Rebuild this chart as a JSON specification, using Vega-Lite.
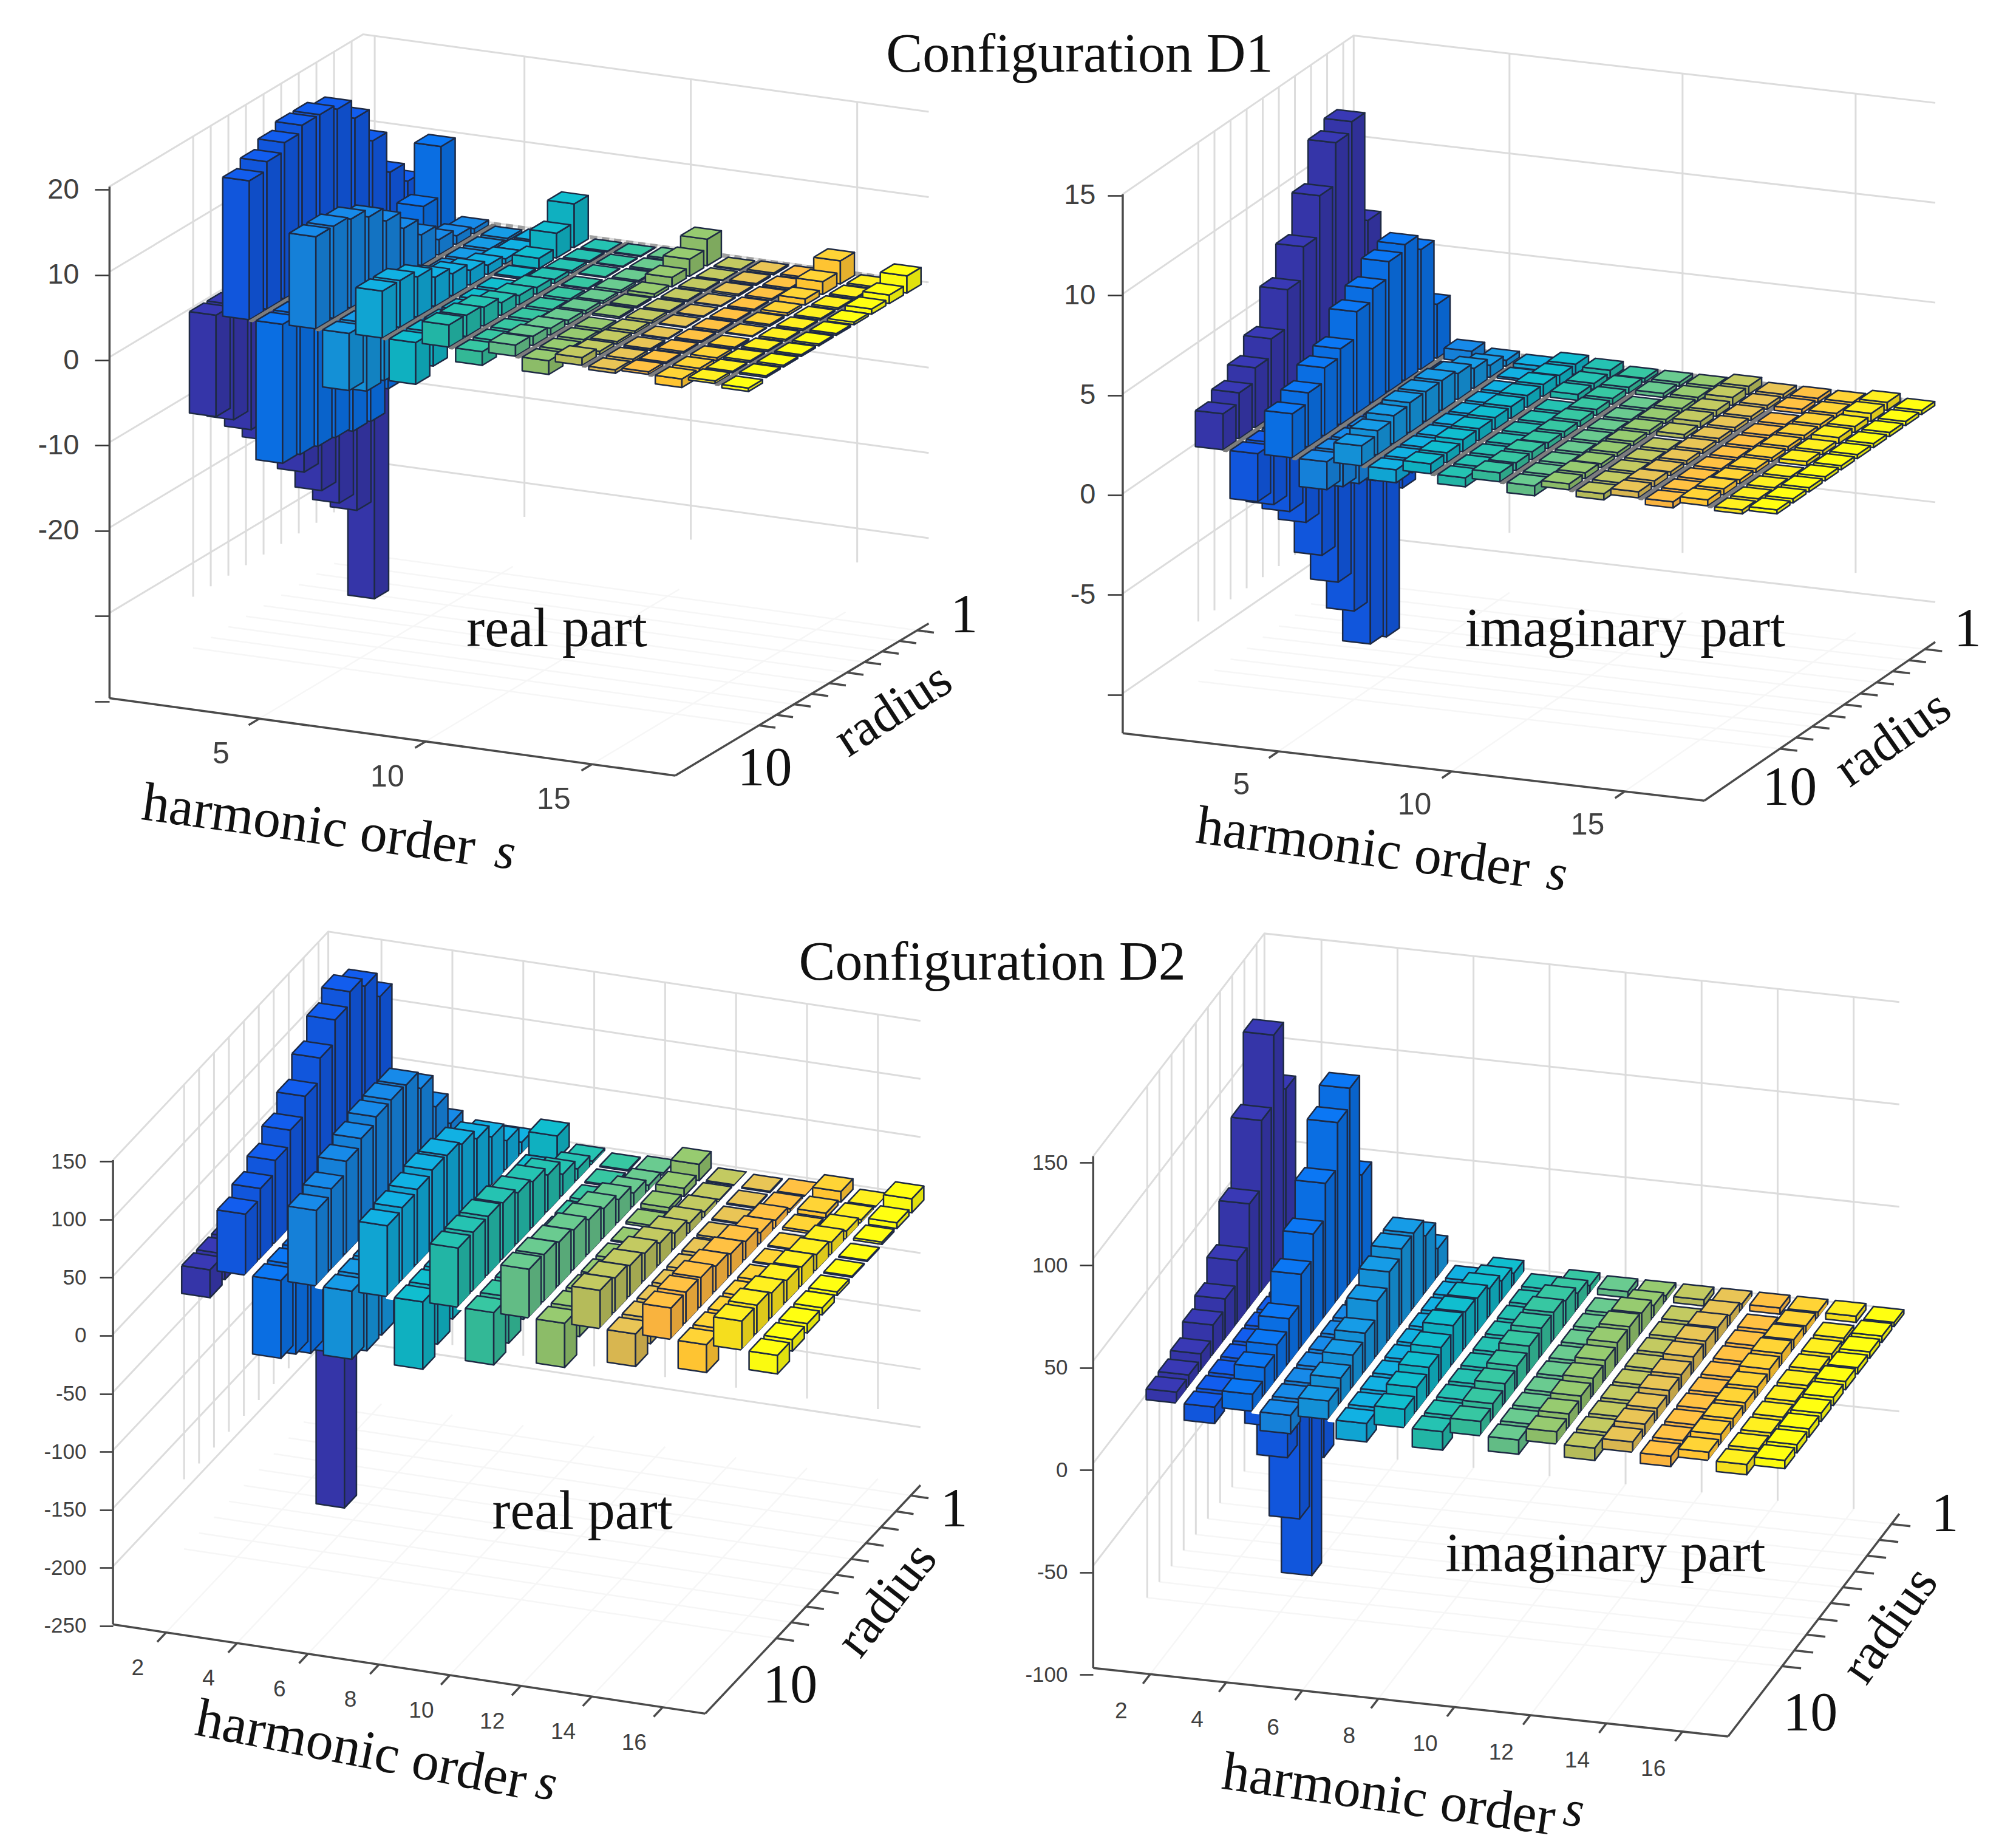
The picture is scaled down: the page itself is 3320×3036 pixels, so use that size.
{"$schema":"https://vega.github.io/schema/vega-lite/v6.json","padding":0,"background":"white","spacing":0,"config":{"view":{"stroke":null}},
"params":[{"name":"G","value":{
"A":{"x0":580.7,"xs":54.8,"xr":29,"left":180,"y0":327.5,"ks":7.5,"kr":17.4,"yc":593,"sc":14.04,"s0":0.5,"s1":17.5,"r0":0.35,"r1":14.75,"vmin":-40,"vtop":20,"vf":-34,"par":1,"gap":"#7d7d7d","gw":0.05,"ws":0.35,"lx":-63,"ly":59},
"B":{"x0":2210,"xs":57,"xr":26.5,"left":1848,"y0":542,"ks":6.6,"kr":18.2,"yc":815,"sc":32.87,"s0":0.5,"s1":17.3,"r0":0.35,"r1":14.7,"vmin":-12,"vtop":15,"vf":-9,"par":0,"gap":"#7d7d7d","gw":0.05,"ws":0,"lx":-61,"ly":56},
"C":{"x0":520,"xs":58.4,"xr":24.6,"left":180,"y0":1805,"ks":8.8,"kr":26.1,"yc":2197,"sc":1.911,"s0":0.5,"s1":17.2,"r0":0.35,"r1":14.76,"vmin":-250,"vtop":150,"vf":-190,"par":1,"gap":"#ffffff","gw":0.09,"ws":0,"lx":-47,"ly":59},
"D":{"x0":2058,"xs":62.6,"xr":20,"left":1800,"y0":2028,"ks":6.75,"kr":26,"yc":2418,"sc":3.371,"s0":0.5,"s1":17.2,"r0":0.35,"r1":14.45,"vmin":-100,"vtop":150,"vf":-100,"par":0,"gap":"#ffffff","gw":0.09,"ws":0,"lx":-48,"ly":62}}},
{"name":"PAL","value":["#3535a8","#1156dc","#0a6ee2","#1580d8","#1490d6","#10a4d2","#0fb0c0","#22b5a5","#33b896","#62bc85","#8cbc68","#b5bb5a","#d8b650","#f9b33e","#fec432","#f5de1e","#fafa10"]}],
"data":{"values":[
{"p":"A","k":"z","t":[20,10,0,-10,-20,-30]},{"p":"A","k":"s","t":[0.5,5,10,15]},{"p":"A","k":"r","t":[1,2,3,4,5,6,7,8,9,10]},{"p":"A","k":"sf","t":[5,10,15]},{"p":"A","k":"rf","t":[1,2,3,4,5,6,7,8,9,10]},{"p":"A","k":"za"},{"p":"A","k":"sa"},{"p":"A","k":"ra"},{"p":"A","k":"st","t":[5,10,15]},{"p":"A","k":"rt","t":[1,2,3,4,5,6,7,8,9,10]},{"p":"A","k":"sl","t":[5,10,15]},{"p":"A","k":"bk"},
{"p":"B","k":"z","t":[15,10,5,0,-5,-10]},{"p":"B","k":"s","t":[0.5,5,10,15]},{"p":"B","k":"r","t":[1,2,3,4,5,6,7,8,9,10]},{"p":"B","k":"sf","t":[5,10,15]},{"p":"B","k":"rf","t":[1,2,3,4,5,6,7,8,9,10]},{"p":"B","k":"za"},{"p":"B","k":"sa"},{"p":"B","k":"ra"},{"p":"B","k":"st","t":[5,10,15]},{"p":"B","k":"rt","t":[1,2,3,4,5,6,7,8,9,10]},{"p":"B","k":"sl","t":[5,10,15]},{"p":"B","k":"bk"},
{"p":"C","k":"z","t":[150,100,50,0,-50,-100,-150,-200]},{"p":"C","k":"s","t":[0.5,2,4,6,8,10,12,14,16]},{"p":"C","k":"r","t":[1,2,3,4,5,6,7,8,9,10]},{"p":"C","k":"sf","t":[2,4,6,8,10,12,14,16]},{"p":"C","k":"rf","t":[1,2,3,4,5,6,7,8,9,10]},{"p":"C","k":"za"},{"p":"C","k":"sa"},{"p":"C","k":"ra"},{"p":"C","k":"st","t":[2,4,6,8,10,12,14,16]},{"p":"C","k":"rt","t":[1,2,3,4,5,6,7,8,9,10]},{"p":"C","k":"sl","t":[2,4,6,8,10,12,14,16]},
{"p":"D","k":"z","t":[150,100,50,0,-50]},{"p":"D","k":"s","t":[0.5,2,4,6,8,10,12,14,16]},{"p":"D","k":"r","t":[1,2,3,4,5,6,7,8,9,10]},{"p":"D","k":"sf","t":[2,4,6,8,10,12,14,16]},{"p":"D","k":"rf","t":[1,2,3,4,5,6,7,8,9,10]},{"p":"D","k":"za"},{"p":"D","k":"sa"},{"p":"D","k":"ra"},{"p":"D","k":"st","t":[2,4,6,8,10,12,14,16]},{"p":"D","k":"rt","t":[1,2,3,4,5,6,7,8,9,10]},{"p":"D","k":"sl","t":[2,4,6,8,10,12,14,16]},
{"p":"A","k":"txt","cls":"big","label":"Configuration D1","x":29.16,"y":35.75},{"p":"A","k":"txt","cls":"big","label":"real part","x":13.45,"y":-31.6},{"p":"A","k":"txt","cls":"harm","label":"harmonic order","x":5.99,"y":-54.6},{"p":"A","k":"txt","cls":"sv","label":"s","x":11.9,"y":-57.8},{"p":"A","k":"txt","cls":"rad","label":"radius","x":23.56,"y":-41},{"p":"A","k":"txt","cls":"big","label":"1","x":25.69,"y":-30},{"p":"A","k":"txt","cls":"big","label":"10","x":19.7,"y":-47.9},
{"p":"B","k":"txt","cls":"big","label":"imaginary part","x":14.53,"y":-6.75},{"p":"B","k":"txt","cls":"harm","label":"harmonic order","x":6.95,"y":-17.7},{"p":"B","k":"txt","cls":"sv","label":"s","x":12.56,"y":-19},{"p":"B","k":"txt","cls":"rad","label":"radius","x":22.26,"y":-12.2},{"p":"B","k":"txt","cls":"big","label":"1","x":24.42,"y":-6.75},{"p":"B","k":"txt","cls":"big","label":"10","x":19.28,"y":-14.7},
{"p":"C","k":"txt","cls":"big","label":"Configuration D2","x":24.9,"y":320.8},{"p":"C","k":"txt","cls":"big","label":"real part","x":13.34,"y":-152.3},{"p":"C","k":"txt","cls":"harm","label":"harmonic order","x":7.1,"y":-357.4},{"p":"C","k":"txt","cls":"sv","label":"s","x":12.33,"y":-386.2},{"p":"C","k":"txt","cls":"rad","label":"radius","x":21.93,"y":-227.6},{"p":"C","k":"txt","cls":"big","label":"1","x":23.82,"y":-150.2},{"p":"C","k":"txt","cls":"big","label":"10","x":19.2,"y":-301.9},
{"p":"D","k":"txt","cls":"big","label":"imaginary part","x":13.48,"y":-41.5},{"p":"D","k":"txt","cls":"harm","label":"harmonic order","x":7.78,"y":-159},{"p":"D","k":"txt","cls":"sv","label":"s","x":12.65,"y":-166.4},{"p":"D","k":"txt","cls":"rad","label":"radius","x":20.96,"y":-75.9},{"p":"D","k":"txt","cls":"big","label":"1","x":22.41,"y":-22},{"p":"D","k":"txt","cls":"big","label":"10","x":18.87,"y":-119.3},
{"p":"A","s":1,"r":1,"v":-44.4},{"p":"A","s":1,"r":2,"v":-32.8},{"p":"A","s":1,"r":3,"v":-30.7},{"p":"A","s":1,"r":4,"v":-28},{"p":"A","s":1,"r":5,"v":-24.6},{"p":"A","s":1,"r":6,"v":-21.5},{"p":"A","s":1,"r":7,"v":-18.4},{"p":"A","s":1,"r":8,"v":-15.9},{"p":"A","s":1,"r":9,"v":-13.5},{"p":"A","s":1,"r":10,"v":-11.9},
{"p":"A","s":2,"r":1,"v":5.1},{"p":"A","s":2,"r":2,"v":7.4},{"p":"A","s":2,"r":3,"v":12.3},{"p":"A","s":2,"r":4,"v":16.2},{"p":"A","s":2,"r":5,"v":18.5},{"p":"A","s":2,"r":6,"v":19.1},{"p":"A","s":2,"r":7,"v":19.1},{"p":"A","s":2,"r":8,"v":18.3},{"p":"A","s":2,"r":9,"v":17.3},{"p":"A","s":2,"r":10,"v":16.3},
{"p":"A","s":3,"r":1,"v":9.7},{"p":"A","s":3,"r":2,"v":3.9},{"p":"A","s":3,"r":3,"v":-8},{"p":"A","s":3,"r":4,"v":-15},{"p":"A","s":3,"r":5,"v":-17.6},{"p":"A","s":3,"r":6,"v":-17.5},{"p":"A","s":3,"r":7,"v":-17},{"p":"A","s":3,"r":8,"v":-16.8},{"p":"A","s":3,"r":9,"v":-16.5},{"p":"A","s":3,"r":10,"v":-16.3},
{"p":"A","s":4,"r":1,"v":0.6},{"p":"A","s":4,"r":2,"v":1},{"p":"A","s":4,"r":3,"v":1.8},{"p":"A","s":4,"r":4,"v":3.6},{"p":"A","s":4,"r":5,"v":5.6},{"p":"A","s":4,"r":6,"v":7.7},{"p":"A","s":4,"r":7,"v":9.4},{"p":"A","s":4,"r":8,"v":10.4},{"p":"A","s":4,"r":9,"v":10.8},{"p":"A","s":4,"r":10,"v":10.8},
{"p":"A","s":5,"r":1,"v":-0.3},{"p":"A","s":5,"r":2,"v":-0.6},{"p":"A","s":5,"r":3,"v":-1},{"p":"A","s":5,"r":4,"v":-2.5},{"p":"A","s":5,"r":5,"v":-4},{"p":"A","s":5,"r":6,"v":-6},{"p":"A","s":5,"r":7,"v":-7.5},{"p":"A","s":5,"r":8,"v":-8},{"p":"A","s":5,"r":9,"v":-8},{"p":"A","s":5,"r":10,"v":-6.7},
{"p":"A","s":6,"r":1,"v":0.2},{"p":"A","s":6,"r":2,"v":0.3},{"p":"A","s":6,"r":3,"v":0.6},{"p":"A","s":6,"r":4,"v":1.1},{"p":"A","s":6,"r":5,"v":1.75},{"p":"A","s":6,"r":6,"v":2.6},{"p":"A","s":6,"r":7,"v":3.4},{"p":"A","s":6,"r":8,"v":4.7},{"p":"A","s":6,"r":9,"v":5.5},{"p":"A","s":6,"r":10,"v":5.5},
{"p":"A","s":7,"r":1,"v":5.1},{"p":"A","s":7,"r":2,"v":2.9},{"p":"A","s":7,"r":3,"v":1.2},{"p":"A","s":7,"r":4,"v":0.2},{"p":"A","s":7,"r":5,"v":-0.7},{"p":"A","s":7,"r":6,"v":-1.2},{"p":"A","s":7,"r":7,"v":-2},{"p":"A","s":7,"r":8,"v":-3},{"p":"A","s":7,"r":9,"v":-4},{"p":"A","s":7,"r":10,"v":-4.9},
{"p":"A","s":8,"r":1,"v":0.1},{"p":"A","s":8,"r":2,"v":0.2},{"p":"A","s":8,"r":3,"v":0.3},{"p":"A","s":8,"r":4,"v":0.5},{"p":"A","s":8,"r":5,"v":0.8},{"p":"A","s":8,"r":6,"v":1.1},{"p":"A","s":8,"r":7,"v":1.5},{"p":"A","s":8,"r":8,"v":2.2},{"p":"A","s":8,"r":9,"v":2.5},{"p":"A","s":8,"r":10,"v":2.6},
{"p":"A","s":9,"r":1,"v":0.1},{"p":"A","s":9,"r":2,"v":0.1},{"p":"A","s":9,"r":3,"v":0.1},{"p":"A","s":9,"r":4,"v":-0.1},{"p":"A","s":9,"r":5,"v":-0.3},{"p":"A","s":9,"r":6,"v":-0.5},{"p":"A","s":9,"r":7,"v":-0.7},{"p":"A","s":9,"r":8,"v":-1},{"p":"A","s":9,"r":9,"v":-1.2},{"p":"A","s":9,"r":10,"v":-1.6},
{"p":"A","s":10,"r":1,"v":0.2},{"p":"A","s":10,"r":2,"v":0.2},{"p":"A","s":10,"r":3,"v":0.2},{"p":"A","s":10,"r":4,"v":0.3},{"p":"A","s":10,"r":5,"v":0.3},{"p":"A","s":10,"r":6,"v":0.4},{"p":"A","s":10,"r":7,"v":0.5},{"p":"A","s":10,"r":8,"v":0.8},{"p":"A","s":10,"r":9,"v":1.1},{"p":"A","s":10,"r":10,"v":1.3},
{"p":"A","s":11,"r":1,"v":3.1},{"p":"A","s":11,"r":2,"v":2},{"p":"A","s":11,"r":3,"v":1.1},{"p":"A","s":11,"r":4,"v":0.4},{"p":"A","s":11,"r":5,"v":0.2},{"p":"A","s":11,"r":6,"v":0.2},{"p":"A","s":11,"r":7,"v":-0.3},{"p":"A","s":11,"r":8,"v":-0.5},{"p":"A","s":11,"r":9,"v":-0.8},{"p":"A","s":11,"r":10,"v":-1.6},
{"p":"A","s":12,"r":1,"v":0.1},{"p":"A","s":12,"r":2,"v":0.1},{"p":"A","s":12,"r":3,"v":0.2},{"p":"A","s":12,"r":4,"v":0.2},{"p":"A","s":12,"r":5,"v":0.2},{"p":"A","s":12,"r":6,"v":0.3},{"p":"A","s":12,"r":7,"v":0.3},{"p":"A","s":12,"r":8,"v":0.3},{"p":"A","s":12,"r":9,"v":0.4},{"p":"A","s":12,"r":10,"v":0.9},
{"p":"A","s":13,"r":1,"v":0.2},{"p":"A","s":13,"r":2,"v":0.2},{"p":"A","s":13,"r":3,"v":0.2},{"p":"A","s":13,"r":4,"v":0.1},{"p":"A","s":13,"r":5,"v":0.1},{"p":"A","s":13,"r":6,"v":0.1},{"p":"A","s":13,"r":7,"v":-0.1},{"p":"A","s":13,"r":8,"v":-0.2},{"p":"A","s":13,"r":9,"v":-0.3},{"p":"A","s":13,"r":10,"v":-0.4},
{"p":"A","s":14,"r":1,"v":0.2},{"p":"A","s":14,"r":2,"v":0.2},{"p":"A","s":14,"r":3,"v":0.2},{"p":"A","s":14,"r":4,"v":0.2},{"p":"A","s":14,"r":5,"v":0.2},{"p":"A","s":14,"r":6,"v":0.2},{"p":"A","s":14,"r":7,"v":0.2},{"p":"A","s":14,"r":8,"v":0.2},{"p":"A","s":14,"r":9,"v":0.2},{"p":"A","s":14,"r":10,"v":0.3},
{"p":"A","s":15,"r":1,"v":2.7},{"p":"A","s":15,"r":2,"v":1.5},{"p":"A","s":15,"r":3,"v":0.7},{"p":"A","s":15,"r":4,"v":0.3},{"p":"A","s":15,"r":5,"v":0.2},{"p":"A","s":15,"r":6,"v":0.1},{"p":"A","s":15,"r":7,"v":-0.2},{"p":"A","s":15,"r":8,"v":-0.3},{"p":"A","s":15,"r":9,"v":-0.5},{"p":"A","s":15,"r":10,"v":-1},
{"p":"A","s":16,"r":1,"v":0.2},{"p":"A","s":16,"r":2,"v":0.2},{"p":"A","s":16,"r":3,"v":0.2},{"p":"A","s":16,"r":4,"v":0.2},{"p":"A","s":16,"r":5,"v":0.2},{"p":"A","s":16,"r":6,"v":0.2},{"p":"A","s":16,"r":7,"v":0.2},{"p":"A","s":16,"r":8,"v":0.2},{"p":"A","s":16,"r":9,"v":0.2},{"p":"A","s":16,"r":10,"v":0.3},
{"p":"A","s":17,"r":1,"v":2},{"p":"A","s":17,"r":2,"v":1},{"p":"A","s":17,"r":3,"v":0.6},{"p":"A","s":17,"r":4,"v":0.3},{"p":"A","s":17,"r":5,"v":0.2},{"p":"A","s":17,"r":6,"v":0.2},{"p":"A","s":17,"r":7,"v":0.2},{"p":"A","s":17,"r":8,"v":0.2},{"p":"A","s":17,"r":9,"v":0.2},{"p":"A","s":17,"r":10,"v":-0.4},
{"p":"B","s":1,"r":1,"v":6.5},{"p":"B","s":1,"r":2,"v":12},{"p":"B","s":1,"r":3,"v":11.5},{"p":"B","s":1,"r":4,"v":9.4},{"p":"B","s":1,"r":5,"v":7.4},{"p":"B","s":1,"r":6,"v":5.8},{"p":"B","s":1,"r":7,"v":3.9},{"p":"B","s":1,"r":8,"v":3},{"p":"B","s":1,"r":9,"v":2.3},{"p":"B","s":1,"r":10,"v":1.8},
{"p":"B","s":2,"r":1,"v":-6.7},{"p":"B","s":2,"r":2,"v":-13.6},{"p":"B","s":2,"r":3,"v":-13.4},{"p":"B","s":2,"r":4,"v":-11.2},{"p":"B","s":2,"r":5,"v":-9.2},{"p":"B","s":2,"r":6,"v":-7.3},{"p":"B","s":2,"r":7,"v":-5.1},{"p":"B","s":2,"r":8,"v":-4},{"p":"B","s":2,"r":9,"v":-3.1},{"p":"B","s":2,"r":10,"v":-2.4},
{"p":"B","s":3,"r":1,"v":2.7},{"p":"B","s":3,"r":2,"v":6},{"p":"B","s":3,"r":3,"v":6.8},{"p":"B","s":3,"r":4,"v":6.5},{"p":"B","s":3,"r":5,"v":5.7},{"p":"B","s":3,"r":6,"v":5.1},{"p":"B","s":3,"r":7,"v":3.8},{"p":"B","s":3,"r":8,"v":3.4},{"p":"B","s":3,"r":9,"v":2.7},{"p":"B","s":3,"r":10,"v":2.2},
{"p":"B","s":4,"r":1,"v":0.55},{"p":"B","s":4,"r":2,"v":-1},{"p":"B","s":4,"r":3,"v":-2},{"p":"B","s":4,"r":4,"v":-2.8},{"p":"B","s":4,"r":5,"v":-3},{"p":"B","s":4,"r":6,"v":-3},{"p":"B","s":4,"r":7,"v":-2.6},{"p":"B","s":4,"r":8,"v":-2.2},{"p":"B","s":4,"r":9,"v":-1.8},{"p":"B","s":4,"r":10,"v":-1.4},
{"p":"B","s":5,"r":1,"v":0.3},{"p":"B","s":5,"r":2,"v":0.6},{"p":"B","s":5,"r":3,"v":1},{"p":"B","s":5,"r":4,"v":1.3},{"p":"B","s":5,"r":5,"v":1.5},{"p":"B","s":5,"r":6,"v":1.5},{"p":"B","s":5,"r":7,"v":1.5},{"p":"B","s":5,"r":8,"v":1.4},{"p":"B","s":5,"r":9,"v":1.2},{"p":"B","s":5,"r":10,"v":1},
{"p":"B","s":6,"r":1,"v":0.2},{"p":"B","s":6,"r":2,"v":0.1},{"p":"B","s":6,"r":3,"v":-0.2},{"p":"B","s":6,"r":4,"v":-0.4},{"p":"B","s":6,"r":5,"v":-0.6},{"p":"B","s":6,"r":6,"v":-0.7},{"p":"B","s":6,"r":7,"v":-0.8},{"p":"B","s":6,"r":8,"v":-0.8},{"p":"B","s":6,"r":9,"v":-0.7},{"p":"B","s":6,"r":10,"v":-0.65},
{"p":"B","s":7,"r":1,"v":0.5},{"p":"B","s":7,"r":2,"v":0.5},{"p":"B","s":7,"r":3,"v":0.6},{"p":"B","s":7,"r":4,"v":0.6},{"p":"B","s":7,"r":5,"v":0.6},{"p":"B","s":7,"r":6,"v":0.6},{"p":"B","s":7,"r":7,"v":0.6},{"p":"B","s":7,"r":8,"v":0.6},{"p":"B","s":7,"r":9,"v":0.5},{"p":"B","s":7,"r":10,"v":0.5},
{"p":"B","s":8,"r":1,"v":0.4},{"p":"B","s":8,"r":2,"v":0.3},{"p":"B","s":8,"r":3,"v":0.3},{"p":"B","s":8,"r":4,"v":-0.2},{"p":"B","s":8,"r":5,"v":-0.3},{"p":"B","s":8,"r":6,"v":-0.4},{"p":"B","s":8,"r":7,"v":-0.4},{"p":"B","s":8,"r":8,"v":-0.4},{"p":"B","s":8,"r":9,"v":-0.4},{"p":"B","s":8,"r":10,"v":-0.45},
{"p":"B","s":9,"r":1,"v":0.2},{"p":"B","s":9,"r":2,"v":0.3},{"p":"B","s":9,"r":3,"v":0.3},{"p":"B","s":9,"r":4,"v":0.3},{"p":"B","s":9,"r":5,"v":0.3},{"p":"B","s":9,"r":6,"v":0.3},{"p":"B","s":9,"r":7,"v":0.3},{"p":"B","s":9,"r":8,"v":0.4},{"p":"B","s":9,"r":9,"v":0.4},{"p":"B","s":9,"r":10,"v":0.45},
{"p":"B","s":10,"r":1,"v":0.2},{"p":"B","s":10,"r":2,"v":0.2},{"p":"B","s":10,"r":3,"v":-0.2},{"p":"B","s":10,"r":4,"v":-0.2},{"p":"B","s":10,"r":5,"v":-0.3},{"p":"B","s":10,"r":6,"v":-0.3},{"p":"B","s":10,"r":7,"v":-0.3},{"p":"B","s":10,"r":8,"v":-0.4},{"p":"B","s":10,"r":9,"v":-0.4},{"p":"B","s":10,"r":10,"v":-0.5},
{"p":"B","s":11,"r":1,"v":0.2},{"p":"B","s":11,"r":2,"v":0.2},{"p":"B","s":11,"r":3,"v":0.2},{"p":"B","s":11,"r":4,"v":0.2},{"p":"B","s":11,"r":5,"v":0.2},{"p":"B","s":11,"r":6,"v":0.2},{"p":"B","s":11,"r":7,"v":0.2},{"p":"B","s":11,"r":8,"v":0.2},{"p":"B","s":11,"r":9,"v":0.3},{"p":"B","s":11,"r":10,"v":0.3},
{"p":"B","s":12,"r":1,"v":0.4},{"p":"B","s":12,"r":2,"v":0.4},{"p":"B","s":12,"r":3,"v":0.3},{"p":"B","s":12,"r":4,"v":0.3},{"p":"B","s":12,"r":5,"v":0.2},{"p":"B","s":12,"r":6,"v":-0.2},{"p":"B","s":12,"r":7,"v":-0.2},{"p":"B","s":12,"r":8,"v":-0.2},{"p":"B","s":12,"r":9,"v":-0.2},{"p":"B","s":12,"r":10,"v":-0.3},
{"p":"B","s":13,"r":1,"v":0.2},{"p":"B","s":13,"r":2,"v":0.2},{"p":"B","s":13,"r":3,"v":0.2},{"p":"B","s":13,"r":4,"v":0.2},{"p":"B","s":13,"r":5,"v":0.2},{"p":"B","s":13,"r":6,"v":0.2},{"p":"B","s":13,"r":7,"v":0.2},{"p":"B","s":13,"r":8,"v":0.2},{"p":"B","s":13,"r":9,"v":0.3},{"p":"B","s":13,"r":10,"v":0.3},
{"p":"B","s":14,"r":1,"v":0.2},{"p":"B","s":14,"r":2,"v":0.2},{"p":"B","s":14,"r":3,"v":-0.2},{"p":"B","s":14,"r":4,"v":-0.2},{"p":"B","s":14,"r":5,"v":-0.2},{"p":"B","s":14,"r":6,"v":-0.2},{"p":"B","s":14,"r":7,"v":-0.2},{"p":"B","s":14,"r":8,"v":-0.2},{"p":"B","s":14,"r":9,"v":-0.3},{"p":"B","s":14,"r":10,"v":-0.3},
{"p":"B","s":15,"r":1,"v":0.2},{"p":"B","s":15,"r":2,"v":0.2},{"p":"B","s":15,"r":3,"v":0.2},{"p":"B","s":15,"r":4,"v":0.2},{"p":"B","s":15,"r":5,"v":0.2},{"p":"B","s":15,"r":6,"v":0.2},{"p":"B","s":15,"r":7,"v":0.2},{"p":"B","s":15,"r":8,"v":0.2},{"p":"B","s":15,"r":9,"v":0.3},{"p":"B","s":15,"r":10,"v":0.3},
{"p":"B","s":16,"r":1,"v":0.4},{"p":"B","s":16,"r":2,"v":0.4},{"p":"B","s":16,"r":3,"v":0.3},{"p":"B","s":16,"r":4,"v":0.3},{"p":"B","s":16,"r":5,"v":0.2},{"p":"B","s":16,"r":6,"v":0.2},{"p":"B","s":16,"r":7,"v":-0.2},{"p":"B","s":16,"r":8,"v":-0.2},{"p":"B","s":16,"r":9,"v":-0.2},{"p":"B","s":16,"r":10,"v":-0.2},
{"p":"B","s":17,"r":1,"v":0.2},{"p":"B","s":17,"r":2,"v":0.2},{"p":"B","s":17,"r":3,"v":0.2},{"p":"B","s":17,"r":4,"v":0.2},{"p":"B","s":17,"r":5,"v":0.2},{"p":"B","s":17,"r":6,"v":0.2},{"p":"B","s":17,"r":7,"v":0.2},{"p":"B","s":17,"r":8,"v":0.2},{"p":"B","s":17,"r":9,"v":0.2},{"p":"B","s":17,"r":10,"v":0.2},
{"p":"C","s":1,"r":1,"v":-328},{"p":"C","s":1,"r":2,"v":-30},{"p":"C","s":1,"r":3,"v":-26},{"p":"C","s":1,"r":4,"v":-24},{"p":"C","s":1,"r":5,"v":-22},{"p":"C","s":1,"r":6,"v":-22},{"p":"C","s":1,"r":7,"v":-20},{"p":"C","s":1,"r":8,"v":-20},{"p":"C","s":1,"r":9,"v":-22},{"p":"C","s":1,"r":10,"v":-24},
{"p":"C","s":2,"r":1,"v":117},{"p":"C","s":2,"r":2,"v":139.7},{"p":"C","s":2,"r":3,"v":148.6},{"p":"C","s":2,"r":4,"v":138},{"p":"C","s":2,"r":5,"v":118.8},{"p":"C","s":2,"r":6,"v":99.5},{"p":"C","s":2,"r":7,"v":84},{"p":"C","s":2,"r":8,"v":71.6},{"p":"C","s":2,"r":9,"v":61},{"p":"C","s":2,"r":10,"v":52.6},
{"p":"C","s":3,"r":1,"v":25},{"p":"C","s":3,"r":2,"v":-110},{"p":"C","s":3,"r":3,"v":-130},{"p":"C","s":3,"r":4,"v":-135},{"p":"C","s":3,"r":5,"v":-125},{"p":"C","s":3,"r":6,"v":-115},{"p":"C","s":3,"r":7,"v":-102},{"p":"C","s":3,"r":8,"v":-90},{"p":"C","s":3,"r":9,"v":-77},{"p":"C","s":3,"r":10,"v":-67},
{"p":"C","s":4,"r":1,"v":17},{"p":"C","s":4,"r":2,"v":45},{"p":"C","s":4,"r":3,"v":74.5},{"p":"C","s":4,"r":4,"v":91},{"p":"C","s":4,"r":5,"v":92},{"p":"C","s":4,"r":6,"v":91},{"p":"C","s":4,"r":7,"v":86},{"p":"C","s":4,"r":8,"v":80},{"p":"C","s":4,"r":9,"v":70},{"p":"C","s":4,"r":10,"v":65},
{"p":"C","s":5,"r":1,"v":-2},{"p":"C","s":5,"r":2,"v":-5},{"p":"C","s":5,"r":3,"v":-8},{"p":"C","s":5,"r":4,"v":-20},{"p":"C","s":5,"r":5,"v":-35},{"p":"C","s":5,"r":6,"v":-50},{"p":"C","s":5,"r":7,"v":-60},{"p":"C","s":5,"r":8,"v":-65},{"p":"C","s":5,"r":9,"v":-65},{"p":"C","s":5,"r":10,"v":-58.6},
{"p":"C","s":6,"r":1,"v":10},{"p":"C","s":6,"r":2,"v":25},{"p":"C","s":6,"r":3,"v":42},{"p":"C","s":6,"r":4,"v":54},{"p":"C","s":6,"r":5,"v":63},{"p":"C","s":6,"r":6,"v":67},{"p":"C","s":6,"r":7,"v":68},{"p":"C","s":6,"r":8,"v":65},{"p":"C","s":6,"r":9,"v":63},{"p":"C","s":6,"r":10,"v":61},
{"p":"C","s":7,"r":1,"v":20},{"p":"C","s":7,"r":2,"v":3},{"p":"C","s":7,"r":3,"v":-2},{"p":"C","s":7,"r":4,"v":-5},{"p":"C","s":7,"r":5,"v":-12},{"p":"C","s":7,"r":6,"v":-22},{"p":"C","s":7,"r":7,"v":-33},{"p":"C","s":7,"r":8,"v":-42},{"p":"C","s":7,"r":9,"v":-50},{"p":"C","s":7,"r":10,"v":-58},
{"p":"C","s":8,"r":1,"v":3},{"p":"C","s":8,"r":2,"v":10},{"p":"C","s":8,"r":3,"v":19},{"p":"C","s":8,"r":4,"v":32},{"p":"C","s":8,"r":5,"v":40},{"p":"C","s":8,"r":6,"v":44},{"p":"C","s":8,"r":7,"v":49},{"p":"C","s":8,"r":8,"v":51},{"p":"C","s":8,"r":9,"v":51},{"p":"C","s":8,"r":10,"v":51},
{"p":"C","s":9,"r":1,"v":-1},{"p":"C","s":9,"r":2,"v":-1},{"p":"C","s":9,"r":3,"v":-3},{"p":"C","s":9,"r":4,"v":-7},{"p":"C","s":9,"r":5,"v":-12},{"p":"C","s":9,"r":6,"v":-18},{"p":"C","s":9,"r":7,"v":-25},{"p":"C","s":9,"r":8,"v":-33},{"p":"C","s":9,"r":9,"v":-40},{"p":"C","s":9,"r":10,"v":-45},
{"p":"C","s":10,"r":1,"v":2},{"p":"C","s":10,"r":2,"v":5},{"p":"C","s":10,"r":3,"v":12},{"p":"C","s":10,"r":4,"v":20},{"p":"C","s":10,"r":5,"v":26},{"p":"C","s":10,"r":6,"v":30},{"p":"C","s":10,"r":7,"v":35},{"p":"C","s":10,"r":8,"v":38},{"p":"C","s":10,"r":9,"v":41},{"p":"C","s":10,"r":10,"v":42},
{"p":"C","s":11,"r":1,"v":14},{"p":"C","s":11,"r":2,"v":7},{"p":"C","s":11,"r":3,"v":4},{"p":"C","s":11,"r":4,"v":2},{"p":"C","s":11,"r":5,"v":-1},{"p":"C","s":11,"r":6,"v":-4},{"p":"C","s":11,"r":7,"v":-8},{"p":"C","s":11,"r":8,"v":-14},{"p":"C","s":11,"r":9,"v":-25},{"p":"C","s":11,"r":10,"v":-38},
{"p":"C","s":12,"r":1,"v":1},{"p":"C","s":12,"r":2,"v":2},{"p":"C","s":12,"r":3,"v":5},{"p":"C","s":12,"r":4,"v":9},{"p":"C","s":12,"r":5,"v":14},{"p":"C","s":12,"r":6,"v":19},{"p":"C","s":12,"r":7,"v":24},{"p":"C","s":12,"r":8,"v":27},{"p":"C","s":12,"r":9,"v":30},{"p":"C","s":12,"r":10,"v":33},
{"p":"C","s":13,"r":1,"v":-1},{"p":"C","s":13,"r":2,"v":-1},{"p":"C","s":13,"r":3,"v":-1},{"p":"C","s":13,"r":4,"v":-2},{"p":"C","s":13,"r":5,"v":-3},{"p":"C","s":13,"r":6,"v":-6},{"p":"C","s":13,"r":7,"v":-10},{"p":"C","s":13,"r":8,"v":-15},{"p":"C","s":13,"r":9,"v":-22},{"p":"C","s":13,"r":10,"v":-28},
{"p":"C","s":14,"r":1,"v":1},{"p":"C","s":14,"r":2,"v":3},{"p":"C","s":14,"r":3,"v":7},{"p":"C","s":14,"r":4,"v":10},{"p":"C","s":14,"r":5,"v":16},{"p":"C","s":14,"r":6,"v":19},{"p":"C","s":14,"r":7,"v":22},{"p":"C","s":14,"r":8,"v":26},{"p":"C","s":14,"r":9,"v":27},{"p":"C","s":14,"r":10,"v":27},
{"p":"C","s":15,"r":1,"v":9},{"p":"C","s":15,"r":2,"v":4},{"p":"C","s":15,"r":3,"v":2},{"p":"C","s":15,"r":4,"v":-1},{"p":"C","s":15,"r":5,"v":-1},{"p":"C","s":15,"r":6,"v":-3},{"p":"C","s":15,"r":7,"v":-6},{"p":"C","s":15,"r":8,"v":-10},{"p":"C","s":15,"r":9,"v":-15},{"p":"C","s":15,"r":10,"v":-24},
{"p":"C","s":16,"r":1,"v":1},{"p":"C","s":16,"r":2,"v":3},{"p":"C","s":16,"r":3,"v":7},{"p":"C","s":16,"r":4,"v":11},{"p":"C","s":16,"r":5,"v":14},{"p":"C","s":16,"r":6,"v":17},{"p":"C","s":16,"r":7,"v":19},{"p":"C","s":16,"r":8,"v":22},{"p":"C","s":16,"r":9,"v":25},{"p":"C","s":16,"r":10,"v":25},
{"p":"C","s":17,"r":1,"v":12},{"p":"C","s":17,"r":2,"v":5},{"p":"C","s":17,"r":3,"v":2},{"p":"C","s":17,"r":4,"v":-1},{"p":"C","s":17,"r":5,"v":-1},{"p":"C","s":17,"r":6,"v":-3},{"p":"C","s":17,"r":7,"v":-6},{"p":"C","s":17,"r":8,"v":-8},{"p":"C","s":17,"r":9,"v":-10},{"p":"C","s":17,"r":10,"v":-16},
{"p":"D","s":1,"r":1,"v":84},{"p":"D","s":1,"r":2,"v":118},{"p":"D","s":1,"r":3,"v":84},{"p":"D","s":1,"r":4,"v":51},{"p":"D","s":1,"r":5,"v":31},{"p":"D","s":1,"r":6,"v":20},{"p":"D","s":1,"r":7,"v":15},{"p":"D","s":1,"r":8,"v":8.6},{"p":"D","s":1,"r":9,"v":6},{"p":"D","s":1,"r":10,"v":5.3},
{"p":"D","s":2,"r":1,"v":-94},{"p":"D","s":2,"r":2,"v":-144},{"p":"D","s":2,"r":3,"v":-108.6},{"p":"D","s":2,"r":4,"v":-71},{"p":"D","s":2,"r":5,"v":-48},{"p":"D","s":2,"r":6,"v":-30},{"p":"D","s":2,"r":7,"v":-18},{"p":"D","s":2,"r":8,"v":-12},{"p":"D","s":2,"r":9,"v":-8},{"p":"D","s":2,"r":10,"v":-8},
{"p":"D","s":3,"r":1,"v":46},{"p":"D","s":3,"r":2,"v":96},{"p":"D","s":3,"r":3,"v":87},{"p":"D","s":3,"r":4,"v":65},{"p":"D","s":3,"r":5,"v":48},{"p":"D","s":3,"r":6,"v":36},{"p":"D","s":3,"r":7,"v":22},{"p":"D","s":3,"r":8,"v":17},{"p":"D","s":3,"r":9,"v":13.6},{"p":"D","s":3,"r":10,"v":8.3},
{"p":"D","s":4,"r":1,"v":-2},{"p":"D","s":4,"r":2,"v":-4},{"p":"D","s":4,"r":3,"v":-6},{"p":"D","s":4,"r":4,"v":-7},{"p":"D","s":4,"r":5,"v":-8},{"p":"D","s":4,"r":6,"v":-8},{"p":"D","s":4,"r":7,"v":-8},{"p":"D","s":4,"r":8,"v":-8},{"p":"D","s":4,"r":9,"v":-8},{"p":"D","s":4,"r":10,"v":-9},
{"p":"D","s":5,"r":1,"v":14},{"p":"D","s":5,"r":2,"v":28},{"p":"D","s":5,"r":3,"v":37},{"p":"D","s":5,"r":4,"v":37},{"p":"D","s":5,"r":5,"v":33.5},{"p":"D","s":5,"r":6,"v":27},{"p":"D","s":5,"r":7,"v":19},{"p":"D","s":5,"r":8,"v":16},{"p":"D","s":5,"r":9,"v":12.5},{"p":"D","s":5,"r":10,"v":9},
{"p":"D","s":6,"r":1,"v":-2},{"p":"D","s":6,"r":2,"v":-3},{"p":"D","s":6,"r":3,"v":-5},{"p":"D","s":6,"r":4,"v":-6},{"p":"D","s":6,"r":5,"v":-7},{"p":"D","s":6,"r":6,"v":-7},{"p":"D","s":6,"r":7,"v":-8},{"p":"D","s":6,"r":8,"v":-8},{"p":"D","s":6,"r":9,"v":-8},{"p":"D","s":6,"r":10,"v":-9},
{"p":"D","s":7,"r":1,"v":6},{"p":"D","s":7,"r":2,"v":10},{"p":"D","s":7,"r":3,"v":14},{"p":"D","s":7,"r":4,"v":17},{"p":"D","s":7,"r":5,"v":18},{"p":"D","s":7,"r":6,"v":19},{"p":"D","s":7,"r":7,"v":16},{"p":"D","s":7,"r":8,"v":14},{"p":"D","s":7,"r":9,"v":12},{"p":"D","s":7,"r":10,"v":9},
{"p":"D","s":8,"r":1,"v":-2},{"p":"D","s":8,"r":2,"v":-3},{"p":"D","s":8,"r":3,"v":-5},{"p":"D","s":8,"r":4,"v":-6},{"p":"D","s":8,"r":5,"v":-6},{"p":"D","s":8,"r":6,"v":-7},{"p":"D","s":8,"r":7,"v":-7},{"p":"D","s":8,"r":8,"v":-8},{"p":"D","s":8,"r":9,"v":-8},{"p":"D","s":8,"r":10,"v":-9},
{"p":"D","s":9,"r":1,"v":4},{"p":"D","s":9,"r":2,"v":8},{"p":"D","s":9,"r":3,"v":12},{"p":"D","s":9,"r":4,"v":14},{"p":"D","s":9,"r":5,"v":14},{"p":"D","s":9,"r":6,"v":13},{"p":"D","s":9,"r":7,"v":11},{"p":"D","s":9,"r":8,"v":10},{"p":"D","s":9,"r":9,"v":8},{"p":"D","s":9,"r":10,"v":7},
{"p":"D","s":10,"r":1,"v":3},{"p":"D","s":10,"r":2,"v":-2},{"p":"D","s":10,"r":3,"v":-3},{"p":"D","s":10,"r":4,"v":-4},{"p":"D","s":10,"r":5,"v":-5},{"p":"D","s":10,"r":6,"v":-5},{"p":"D","s":10,"r":7,"v":-6},{"p":"D","s":10,"r":8,"v":-6},{"p":"D","s":10,"r":9,"v":-7},{"p":"D","s":10,"r":10,"v":-7},
{"p":"D","s":11,"r":1,"v":3},{"p":"D","s":11,"r":2,"v":6},{"p":"D","s":11,"r":3,"v":10},{"p":"D","s":11,"r":4,"v":11},{"p":"D","s":11,"r":5,"v":11},{"p":"D","s":11,"r":6,"v":10},{"p":"D","s":11,"r":7,"v":9},{"p":"D","s":11,"r":8,"v":8},{"p":"D","s":11,"r":9,"v":7},{"p":"D","s":11,"r":10,"v":6},
{"p":"D","s":12,"r":1,"v":3},{"p":"D","s":12,"r":2,"v":-2},{"p":"D","s":12,"r":3,"v":-3},{"p":"D","s":12,"r":4,"v":-4},{"p":"D","s":12,"r":5,"v":-4},{"p":"D","s":12,"r":6,"v":-5},{"p":"D","s":12,"r":7,"v":-5},{"p":"D","s":12,"r":8,"v":-6},{"p":"D","s":12,"r":9,"v":-6},{"p":"D","s":12,"r":10,"v":-6},
{"p":"D","s":13,"r":1,"v":3},{"p":"D","s":13,"r":2,"v":5},{"p":"D","s":13,"r":3,"v":7},{"p":"D","s":13,"r":4,"v":8},{"p":"D","s":13,"r":5,"v":8},{"p":"D","s":13,"r":6,"v":7},{"p":"D","s":13,"r":7,"v":7},{"p":"D","s":13,"r":8,"v":6},{"p":"D","s":13,"r":9,"v":6},{"p":"D","s":13,"r":10,"v":5},
{"p":"D","s":14,"r":1,"v":3},{"p":"D","s":14,"r":2,"v":-2},{"p":"D","s":14,"r":3,"v":-3},{"p":"D","s":14,"r":4,"v":-3},{"p":"D","s":14,"r":5,"v":-4},{"p":"D","s":14,"r":6,"v":-4},{"p":"D","s":14,"r":7,"v":-5},{"p":"D","s":14,"r":8,"v":-5},{"p":"D","s":14,"r":9,"v":-5},{"p":"D","s":14,"r":10,"v":-5},
{"p":"D","s":15,"r":1,"v":3},{"p":"D","s":15,"r":2,"v":4},{"p":"D","s":15,"r":3,"v":5},{"p":"D","s":15,"r":4,"v":6},{"p":"D","s":15,"r":5,"v":6},{"p":"D","s":15,"r":6,"v":5},{"p":"D","s":15,"r":7,"v":5},{"p":"D","s":15,"r":8,"v":5},{"p":"D","s":15,"r":9,"v":5},{"p":"D","s":15,"r":10,"v":4},
{"p":"D","s":16,"r":1,"v":3},{"p":"D","s":16,"r":2,"v":-2},{"p":"D","s":16,"r":3,"v":-3},{"p":"D","s":16,"r":4,"v":-3},{"p":"D","s":16,"r":5,"v":-4},{"p":"D","s":16,"r":6,"v":-4},{"p":"D","s":16,"r":7,"v":-4},{"p":"D","s":16,"r":8,"v":-4},{"p":"D","s":16,"r":9,"v":-5},{"p":"D","s":16,"r":10,"v":-5},
{"p":"D","s":17,"r":1,"v":2},{"p":"D","s":17,"r":2,"v":3},{"p":"D","s":17,"r":3,"v":3},{"p":"D","s":17,"r":4,"v":3},{"p":"D","s":17,"r":5,"v":4},{"p":"D","s":17,"r":6,"v":4},{"p":"D","s":17,"r":7,"v":4},{"p":"D","s":17,"r":8,"v":4},{"p":"D","s":17,"r":9,"v":4},{"p":"D","s":17,"r":10,"v":4}
]},
"transform":[
{"calculate":"G[datum.p]","as":"g"},
{"calculate":"isArray(datum.t)?datum.t:[0]","as":"tt"},{"flatten":["tt"]},
{"calculate":"datum.k?['x']:['gap','front','side','top']","as":"f"},{"flatten":["f"]},
{"filter":"datum.f!='gap'||(datum.s>1&&datum.s%2==datum.g.par)"},
{"calculate":"datum.k?[0,1,2]:[0,1,2,3,4]","as":"c"},{"flatten":["c"]},
{"calculate":"!datum.k?datum.s+(datum.f=='side'?0.4:datum.f=='gap'?-0.5+[-1,1,1,-1,-1][datum.c]*datum.g.gw:[-0.4,0.4,0.4,-0.4,-0.4][datum.c]):{z:[datum.g.s0,datum.g.s0,datum.g.s1][datum.c],s:datum.tt+datum.g.ws,r:datum.g.s0,sf:datum.tt,rf:[datum.g.s0,datum.g.s1,datum.g.s1][datum.c],za:datum.g.s0,sa:[datum.g.s0,datum.g.s1,datum.g.s1][datum.c],ra:datum.g.s1,st:datum.tt,rt:[datum.g.s1,datum.g.s1+0.5,datum.g.s1+0.5][datum.c],bk:[datum.g.s0,datum.g.s1,datum.g.s1][datum.c],sl:datum.tt,txt:0}[datum.k]","as":"S"},
{"calculate":"!datum.k?datum.r+(datum.f=='front'?0.4:datum.f=='side'?[0.4,-0.4,-0.4,0.4,0.4][datum.c]:datum.f=='top'?[0.4,0.4,-0.4,-0.4,0.4][datum.c]:[0.5,0.5,-0.5,-0.5,0.5][datum.c]):{z:[datum.g.r1,datum.g.r0,datum.g.r0][datum.c],s:datum.g.r0,r:datum.tt,sf:[datum.g.r0,datum.g.r1,datum.g.r1][datum.c],rf:datum.tt,za:datum.g.r1,sa:datum.g.r1,ra:[datum.g.r0,datum.g.r1,datum.g.r1][datum.c],st:[datum.g.r1,datum.g.r1+0.6,datum.g.r1+0.6][datum.c],rt:datum.tt,bk:0.45,sl:datum.g.r1,txt:0}[datum.k]","as":"R"},
{"calculate":"!datum.k?(datum.f=='gap'?0:datum.f=='top'?max(datum.v,0):[max(datum.v,0),max(datum.v,0),min(datum.v,0),min(datum.v,0),max(datum.v,0)][datum.c]):{z:datum.tt,s:[datum.g.vf,datum.g.vtop,datum.g.vtop][datum.c],r:[datum.g.vf,datum.g.vtop,datum.g.vtop][datum.c],sf:datum.g.vmin,rf:datum.g.vmin,za:[datum.g.vmin,datum.g.vtop,datum.g.vtop][datum.c],sa:datum.g.vmin,ra:datum.g.vmin,st:datum.g.vmin,rt:datum.g.vmin,bk:0,sl:datum.g.vmin,txt:0}[datum.k]","as":"Z"},
{"calculate":"datum.k=='txt'?datum.x:datum.S+(datum.g.x0-datum.g.left-datum.g.xr*datum.R)/datum.g.xs+(datum.k=='sl'?datum.g.lx/datum.g.xs:0)","as":"xu"},
{"calculate":"datum.k=='txt'?datum.y:datum.Z-(datum.g.y0+datum.g.ks*datum.S+datum.g.kr*datum.R-datum.g.yc)/datum.g.sc-(datum.k=='sl'?datum.g.ly/datum.g.sc:0)","as":"yu"},
{"calculate":"datum.p+'|'+datum.k+'|'+datum.tt+'|'+datum.s+'|'+datum.r+'|'+datum.f","as":"key"},
{"calculate":"{front:1,side:0.9,top:1.08,gap:1,x:1}[datum.f]","as":"sh"},
{"calculate":"datum.k?'':datum.f=='gap'?datum.g.gap:'rgb('+round(min(255,rgb(PAL[datum.s-1]).r*datum.sh))+','+round(min(255,rgb(PAL[datum.s-1]).g*datum.sh))+','+round(min(255,rgb(PAL[datum.s-1]).b*datum.sh))+')'","as":"col"},
{"calculate":"datum.f=='gap'?datum.col:'#1e2a44'","as":"edge"}
],
"vconcat":[
{"hconcat":[
{"width":1668,"height":1482,
"encoding":{"x":{"field":"xu","type":"quantitative","axis":null,"scale":{"domain":[0,30.44],"nice":false,"zero":false}},"y":{"field":"yu","type":"quantitative","scale":{"domain":[-63.32,42.24],"nice":false,"zero":false},"axis":{"title":null,"values":[20,10,0,-10,-20,-30,-40],"labelExpr":"datum.value>=-20?''+datum.value:''","domain":false,"grid":false,"tickColor":"#333333","tickSize":24,"tickWidth":2.5,"labelFont":"Liberation Sans","labelFontSize":47,"labelColor":"#404040","labelPadding":26,"minExtent":180,"maxExtent":180}}},
"layer":[
{"transform":[{"filter":"datum.p=='A'&&indexof(['sf','rf'],datum.k)>=0"}],"mark":{"type":"line","stroke":"#f6f6f6","strokeWidth":2.5},"encoding":{"detail":{"field":"key"},"order":{"field":"c"}}},
{"transform":[{"filter":"datum.p=='A'&&indexof(['z','s','r'],datum.k)>=0"}],"mark":{"type":"line","stroke":"#dcdcdc","strokeWidth":3},"encoding":{"detail":{"field":"key"},"order":{"field":"c"}}},
{"transform":[{"filter":"datum.p=='A'&&datum.k=='bk'"}],"mark":{"type":"line","stroke":"#a0a0a0","strokeWidth":7,"strokeDash":[12,8]},"encoding":{"detail":{"field":"key"},"order":{"field":"c"}}},
{"transform":[{"filter":"datum.p=='A'&&indexof(['za','sa','ra','st','rt'],datum.k)>=0"}],"mark":{"type":"line","stroke":"#4a4a4a","strokeWidth":3.5},"encoding":{"detail":{"field":"key"},"order":{"field":"c"}}},
{"transform":[{"filter":"datum.p=='A'&&!datum.k"}],"mark":{"type":"line","strokeWidth":2.5,"strokeJoin":"round"},"encoding":{"detail":{"field":"key"},"order":{"field":"c"},"fill":{"field":"col","type":"nominal","scale":null},"stroke":{"field":"edge","type":"nominal","scale":null}}},
{"transform":[{"filter":"datum.p=='A'&&datum.k=='sl'&&datum.c==0"}],"mark":{"type":"text","font":"Liberation Sans","fontSize":50,"fill":"#404040"},"encoding":{"text":{"field":"tt","type":"quantitative"}}},
{"transform":[{"filter":"datum.p=='A'&&datum.cls=='big'&&datum.c==0"}],"mark":{"type":"text","font":"Liberation Serif","fontSize":90,"fill":"#111111"},"encoding":{"text":{"field":"label"}}},
{"transform":[{"filter":"datum.p=='A'&&datum.cls=='harm'&&datum.c==0"}],"mark":{"type":"text","font":"Liberation Serif","fontSize":90,"fill":"#111111","angle":7.8},"encoding":{"text":{"field":"label"}}},
{"transform":[{"filter":"datum.p=='A'&&datum.cls=='sv'&&datum.c==0"}],"mark":{"type":"text","font":"Liberation Serif","fontStyle":"italic","fontSize":84,"fill":"#111111","angle":7.8},"encoding":{"text":{"field":"label"}}},
{"transform":[{"filter":"datum.p=='A'&&datum.cls=='rad'&&datum.c==0"}],"mark":{"type":"text","font":"Liberation Serif","fontSize":86,"fill":"#111111","angle":-33},"encoding":{"text":{"field":"label"}}}
]},
{"width":1472,"height":1482,
"encoding":{"x":{"field":"xu","type":"quantitative","axis":null,"scale":{"domain":[0,25.82],"nice":false,"zero":false}},"y":{"field":"yu","type":"quantitative","scale":{"domain":[-20.29,24.79],"nice":false,"zero":false},"axis":{"title":null,"values":[15,10,5,0,-5,-10],"labelExpr":"datum.value>=-5?''+datum.value:''","domain":false,"grid":false,"tickColor":"#333333","tickSize":24,"tickWidth":2.5,"labelFont":"Liberation Sans","labelFontSize":47,"labelColor":"#404040","labelPadding":20}}},
"layer":[
{"transform":[{"filter":"datum.p=='B'&&indexof(['sf','rf'],datum.k)>=0"}],"mark":{"type":"line","stroke":"#f6f6f6","strokeWidth":2.5},"encoding":{"detail":{"field":"key"},"order":{"field":"c"}}},
{"transform":[{"filter":"datum.p=='B'&&indexof(['z','s','r'],datum.k)>=0"}],"mark":{"type":"line","stroke":"#dcdcdc","strokeWidth":3},"encoding":{"detail":{"field":"key"},"order":{"field":"c"}}},
{"transform":[{"filter":"datum.p=='B'&&datum.k=='bk'"}],"mark":{"type":"line","stroke":"#a0a0a0","strokeWidth":7,"strokeDash":[12,8]},"encoding":{"detail":{"field":"key"},"order":{"field":"c"}}},
{"transform":[{"filter":"datum.p=='B'&&indexof(['za','sa','ra','st','rt'],datum.k)>=0"}],"mark":{"type":"line","stroke":"#4a4a4a","strokeWidth":3.5},"encoding":{"detail":{"field":"key"},"order":{"field":"c"}}},
{"transform":[{"filter":"datum.p=='B'&&!datum.k"}],"mark":{"type":"line","strokeWidth":2.5,"strokeJoin":"round"},"encoding":{"detail":{"field":"key"},"order":{"field":"c"},"fill":{"field":"col","type":"nominal","scale":null},"stroke":{"field":"edge","type":"nominal","scale":null}}},
{"transform":[{"filter":"datum.p=='B'&&datum.k=='sl'&&datum.c==0"}],"mark":{"type":"text","font":"Liberation Sans","fontSize":50,"fill":"#404040"},"encoding":{"text":{"field":"tt","type":"quantitative"}}},
{"transform":[{"filter":"datum.p=='B'&&datum.cls=='big'&&datum.c==0"}],"mark":{"type":"text","font":"Liberation Serif","fontSize":90,"fill":"#111111"},"encoding":{"text":{"field":"label"}}},
{"transform":[{"filter":"datum.p=='B'&&datum.cls=='harm'&&datum.c==0"}],"mark":{"type":"text","font":"Liberation Serif","fontSize":90,"fill":"#111111","angle":7.6},"encoding":{"text":{"field":"label"}}},
{"transform":[{"filter":"datum.p=='B'&&datum.cls=='sv'&&datum.c==0"}],"mark":{"type":"text","font":"Liberation Serif","fontStyle":"italic","fontSize":84,"fill":"#111111","angle":7.6},"encoding":{"text":{"field":"label"}}},
{"transform":[{"filter":"datum.p=='B'&&datum.cls=='rad'&&datum.c==0"}],"mark":{"type":"text","font":"Liberation Serif","fontSize":86,"fill":"#111111","angle":-35},"encoding":{"text":{"field":"label"}}}
]}
],"spacing":0,"bounds":"flush"},
{"hconcat":[
{"width":1620,"height":1554,
"encoding":{"x":{"field":"xu","type":"quantitative","axis":null,"scale":{"domain":[0,27.74],"nice":false,"zero":false}},"y":{"field":"yu","type":"quantitative","scale":{"domain":[-439,374.1],"nice":false,"zero":false},"axis":{"title":null,"values":[150,100,50,0,-50,-100,-150,-200,-250],"labelExpr":"''+datum.value","domain":false,"grid":false,"offset":-6,"tickColor":"#333333","tickSize":22,"tickWidth":2.5,"labelFont":"Liberation Sans","labelFontSize":35,"labelColor":"#404040","labelPadding":22}}},
"layer":[
{"transform":[{"filter":"datum.p=='C'&&indexof(['sf','rf'],datum.k)>=0"}],"mark":{"type":"line","stroke":"#f6f6f6","strokeWidth":2.5},"encoding":{"detail":{"field":"key"},"order":{"field":"c"}}},
{"transform":[{"filter":"datum.p=='C'&&indexof(['z','s','r'],datum.k)>=0"}],"mark":{"type":"line","stroke":"#dcdcdc","strokeWidth":3},"encoding":{"detail":{"field":"key"},"order":{"field":"c"}}},
{"transform":[{"filter":"datum.p=='C'&&indexof(['za','sa','ra','st','rt'],datum.k)>=0"}],"mark":{"type":"line","stroke":"#4a4a4a","strokeWidth":3.5},"encoding":{"detail":{"field":"key"},"order":{"field":"c"}}},
{"transform":[{"filter":"datum.p=='C'&&!datum.k"}],"mark":{"type":"line","strokeWidth":2.5,"strokeJoin":"round"},"encoding":{"detail":{"field":"key"},"order":{"field":"c"},"fill":{"field":"col","type":"nominal","scale":null},"stroke":{"field":"edge","type":"nominal","scale":null}}},
{"transform":[{"filter":"datum.p=='C'&&datum.k=='sl'&&datum.c==0"}],"mark":{"type":"text","font":"Liberation Sans","fontSize":37,"fill":"#404040"},"encoding":{"text":{"field":"tt","type":"quantitative"}}},
{"transform":[{"filter":"datum.p=='C'&&datum.cls=='big'&&datum.c==0"}],"mark":{"type":"text","font":"Liberation Serif","fontSize":90,"fill":"#111111"},"encoding":{"text":{"field":"label"}}},
{"transform":[{"filter":"datum.p=='C'&&datum.cls=='harm'&&datum.c==0"}],"mark":{"type":"text","font":"Liberation Serif","fontSize":90,"fill":"#111111","angle":11},"encoding":{"text":{"field":"label"}}},
{"transform":[{"filter":"datum.p=='C'&&datum.cls=='sv'&&datum.c==0"}],"mark":{"type":"text","font":"Liberation Serif","fontStyle":"italic","fontSize":84,"fill":"#111111","angle":11},"encoding":{"text":{"field":"label"}}},
{"transform":[{"filter":"datum.p=='C'&&datum.cls=='rad'&&datum.c==0"}],"mark":{"type":"text","font":"Liberation Serif","fontSize":86,"fill":"#111111","angle":-52},"encoding":{"text":{"field":"label"}}}
]},
{"width":1520,"height":1554,
"encoding":{"x":{"field":"xu","type":"quantitative","axis":null,"scale":{"domain":[0,24.28],"nice":false,"zero":false}},"y":{"field":"yu","type":"quantitative","scale":{"domain":[-183.3,277.7],"nice":false,"zero":false},"axis":{"title":null,"values":[150,100,50,0,-50,-100],"labelExpr":"''+datum.value","domain":false,"grid":false,"tickColor":"#333333","tickSize":22,"tickWidth":2.5,"labelFont":"Liberation Sans","labelFontSize":35,"labelColor":"#404040","labelPadding":20}}},
"layer":[
{"transform":[{"filter":"datum.p=='D'&&indexof(['sf','rf'],datum.k)>=0"}],"mark":{"type":"line","stroke":"#f6f6f6","strokeWidth":2.5},"encoding":{"detail":{"field":"key"},"order":{"field":"c"}}},
{"transform":[{"filter":"datum.p=='D'&&indexof(['z','s','r'],datum.k)>=0"}],"mark":{"type":"line","stroke":"#dcdcdc","strokeWidth":3},"encoding":{"detail":{"field":"key"},"order":{"field":"c"}}},
{"transform":[{"filter":"datum.p=='D'&&indexof(['za','sa','ra','st','rt'],datum.k)>=0"}],"mark":{"type":"line","stroke":"#4a4a4a","strokeWidth":3.5},"encoding":{"detail":{"field":"key"},"order":{"field":"c"}}},
{"transform":[{"filter":"datum.p=='D'&&!datum.k"}],"mark":{"type":"line","strokeWidth":2.5,"strokeJoin":"round"},"encoding":{"detail":{"field":"key"},"order":{"field":"c"},"fill":{"field":"col","type":"nominal","scale":null},"stroke":{"field":"edge","type":"nominal","scale":null}}},
{"transform":[{"filter":"datum.p=='D'&&datum.k=='sl'&&datum.c==0"}],"mark":{"type":"text","font":"Liberation Sans","fontSize":37,"fill":"#404040"},"encoding":{"text":{"field":"tt","type":"quantitative"}}},
{"transform":[{"filter":"datum.p=='D'&&datum.cls=='big'&&datum.c==0"}],"mark":{"type":"text","font":"Liberation Serif","fontSize":90,"fill":"#111111"},"encoding":{"text":{"field":"label"}}},
{"transform":[{"filter":"datum.p=='D'&&datum.cls=='harm'&&datum.c==0"}],"mark":{"type":"text","font":"Liberation Serif","fontSize":90,"fill":"#111111","angle":8},"encoding":{"text":{"field":"label"}}},
{"transform":[{"filter":"datum.p=='D'&&datum.cls=='sv'&&datum.c==0"}],"mark":{"type":"text","font":"Liberation Serif","fontStyle":"italic","fontSize":84,"fill":"#111111","angle":8},"encoding":{"text":{"field":"label"}}},
{"transform":[{"filter":"datum.p=='D'&&datum.cls=='rad'&&datum.c==0"}],"mark":{"type":"text","font":"Liberation Serif","fontSize":86,"fill":"#111111","angle":-55},"encoding":{"text":{"field":"label"}}}
]}
],"spacing":0,"bounds":"flush"}
]}
